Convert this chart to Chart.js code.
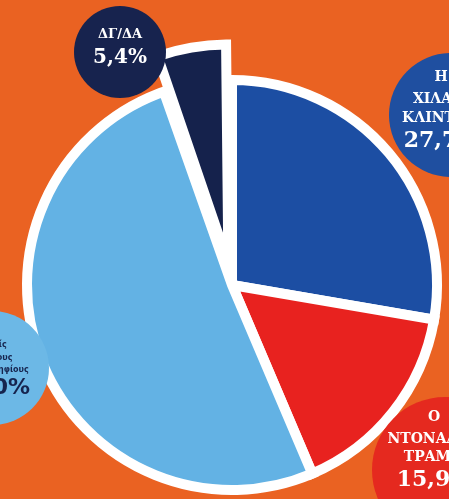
<!DOCTYPE html>
<html>
<head>
<meta charset="utf-8">
<script src="https://cdn.jsdelivr.net/npm/chart.js@4/dist/chart.umd.min.js"></script>
<style>
  html, body { margin: 0; padding: 0; background: #EA6222; overflow: hidden; }
  #wrap { width: 449px; height: 499px; }
</style>
</head>
<body>
<div id="wrap"><canvas id="c" width="449" height="499"></canvas></div>
<script>
// ---- data ----
const categories = ["Η ΧΙΛΑΡΙ ΚΛΙΝΤΟΝ", "Ο ΝΤΟΝΑΛΝΤ ΤΡΑΜΠ", "Κανείς από τους δύο υποψηφίους", "ΔΓ/ΔΑ"];
const labelLines = [["Η", "ΧΙΛΑΡΙ", "ΚΛΙΝΤΟΝ"], ["Ο", "ΝΤΟΝΑΛΝΤ", "ΤΡΑΜΠ"], ["Κανείς", "από τους", "δύο υποψηφίους"], ["ΔΓ/ΔΑ"]];
const values = [27.7, 15.9, 51.0, 5.4];

// ---- styles ----
const sliceColors = ["#1C4EA3", "#E8221F", "#63B2E4", "#15224C"];
const sliceOffsets = [0, 0, 0, 86];
const badges = [
  { x: 451, y: 115, r: 62, tx: 441, fill: "#1F4FA0", text: "#FFFFFF", serif: true, small: 14, big: 22, lineGap: [-38, -16, 3, 26] },
  { x: 445, y: 470, r: 73, tx: 434, fill: "#E5291F", text: "#FFFFFF", serif: true, small: 14, big: 22, lineGap: [-53, -31, -13, 10] },
  { x: -8, y: 368, r: 57, tx: -8, fill: "#6CB8E6", text: "#16244E", serif: false, small: 8, big: 22, lineGap: [-23, -10, 2, 20] },
  { x: 120, y: 52, r: 46, tx: 120, fill: "#17234E", text: "#FFFFFF", serif: true, small: 13, big: 20, lineGap: [-17, 6] }
];

function fmt(v) { return v.toFixed(1).replace('.', ',') + '%'; }

const badgePlugin = {
  id: 'badges',
  afterDatasetsDraw(chart) {
    const ctx = chart.ctx;
    ctx.save();
    badges.forEach((b, i) => {
      ctx.beginPath();
      ctx.arc(b.x, b.y, b.r, 0, Math.PI * 2);
      ctx.fillStyle = b.fill;
      ctx.fill();
      ctx.fillStyle = b.text;
      ctx.textAlign = 'center';
      ctx.textBaseline = 'middle';
      const fam = b.serif ? '"DejaVu Serif", "Liberation Serif", serif' : '"DejaVu Sans", "Liberation Sans", sans-serif';
      const lines = labelLines[i];
      lines.forEach((t, k) => {
        ctx.font = 'bold ' + b.small + 'px ' + fam;
        ctx.fillText(t, b.tx, b.y + b.lineGap[k]);
      });
      ctx.font = 'bold ' + b.big + 'px ' + fam;
      ctx.fillText(fmt(values[i]), b.tx, b.y + b.lineGap[lines.length]);
    });
    ctx.restore();
  }
};

new Chart(document.getElementById('c'), {
  type: 'pie',
  data: {
    labels: categories,
    datasets: [{
      data: values,
      backgroundColor: sliceColors,
      borderColor: '#FFFFFF',
      borderWidth: 10,
      borderJoinStyle: 'miter',
      offset: sliceOffsets
    }]
  },
  options: {
    responsive: false,
    animation: false,
    events: [],
    radius: 205,
    layout: { padding: { left: 15, right: 0, top: 71, bottom: 0 } },
    plugins: { legend: { display: false }, tooltip: { enabled: false } }
  },
  plugins: [badgePlugin]
});
</script>
</body>
</html>
